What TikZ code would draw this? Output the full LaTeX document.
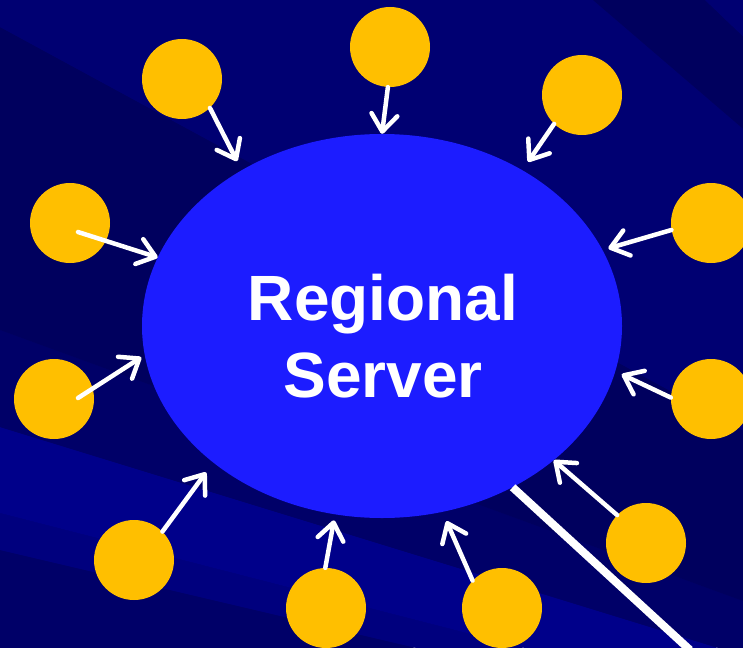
\documentclass[tikz,border=0pt]{standalone}
\usepackage{fontspec}
\setmainfont{Liberation Sans}
\usetikzlibrary{shapes.geometric,arrows.meta,calc}
\definecolor{srvblue}{HTML}{1C1CFF}
\definecolor{dotyellow}{HTML}{FFBF00}
\definecolor{bgDark}{HTML}{00005E}
\definecolor{bgDk}{HTML}{000068}
\definecolor{bgMid}{HTML}{000072}
\definecolor{bgMl}{HTML}{00007E}
\definecolor{bgLight}{HTML}{00008A}
\tikzset{
  dot/.style={circle, fill=dotyellow, minimum size=80pt, inner sep=0pt},
  server/.style={ellipse, fill=srvblue, minimum width=480pt, minimum height=384pt, inner sep=0pt},
  feed/.style={draw=white, line width=4.5pt, line cap=round,
    -{Straight Barb[length=17pt,width=26pt,round]}},
  uplink/.style={draw=white, line width=8pt},
  lbl/.style={text=white, font=\bfseries\fontsize{64}{77}\selectfont, align=center},
  band/.style={fill=#1}
}
\begin{document}
\begin{tikzpicture}[x=1pt,y=-1pt]
\useasboundingbox (0,0) rectangle (743,647);
\begin{scope}
\clip (0,0) rectangle (743,647);
\fill[bgMid] (0,0) rectangle (743,647);
\coordinate (F) at (1700,950);
\fill[band=bgDk]    (F) -- ($(F)!2!(0,700)$) -- ($(F)!2!(0,550)$) -- cycle;
\fill[band=bgMl]    (F) -- ($(F)!2!(0,550)$) -- ($(F)!2!(0,513)$) -- cycle;
\fill[band=bgLight] (F) -- ($(F)!2!(0,513)$) -- ($(F)!2!(0,427)$) -- cycle;
\fill[band=bgDk]    (F) -- ($(F)!2!(0,427)$) -- ($(F)!2!(0,330)$) -- cycle;
\fill[band=bgDark]  (F) -- ($(F)!2!(0,330)$) -- ($(F)!2!(0,27)$) -- cycle;
\fill[band=bgMid]   (F) -- ($(F)!2!(0,27)$) -- ($(F)!2!(593,0)$) -- cycle;
\fill[band=bgDark]  (F) -- ($(F)!2!(593,0)$) -- ($(F)!2!(705,0)$) -- cycle;
\fill[band=bgMid]   (F) -- ($(F)!2!(705,0)$) -- ($(F)!2!(800,0)$) -- cycle;
\end{scope}
% server
\node[server] (srv) at (382,326) {};
\node[lbl] (txt) at (383,336) {Regional\\Server};
% clients
\node[dot] (c1) at (182,79) {};
\node[dot] (c2) at (390,47) {};
\node[dot] (c3) at (582,95) {};
\node[dot] (c4) at (70,223) {};
\node[dot] (c5) at (711,223) {};
\node[dot] (c6) at (54,399) {};
\node[dot] (c7) at (711,399) {};
\node[dot] (c8) at (134,560) {};
\node[dot] (c9) at (646,543) {};
\node[dot] (c10) at (326,608) {};
\node[dot] (c11) at (502,608) {};
% arrows
\draw[feed, shorten >=10pt] (c1.-46) -- (srv.132);
\draw[feed] (c2.-93) -- (srv.90);
\draw[feed, shorten >=10pt] (c3.226) -- (srv.48);
\draw[feed] ([shift={(8,9)}]c4.center) -- (srv.163.5);
\draw[feed, shorten >=6pt] (c5.190) -- (srv.19.8);
\draw[feed, shorten >=4pt] ([shift={(24,-1)}]c6.center) -- (srv.187.8);
\draw[feed, shorten >=7pt] (c7.178) -- (srv.-11.5);
\draw[feed, shorten >=12pt] (c8.45) -- (srv.219.5);
\draw[feed] (c9.136) -- (srv.-38.7);
\draw[feed, shorten >=6pt] (c10.91.5) -- (srv.256);
\draw[feed, shorten >=10pt] (c11.137) -- (srv.288.7);
% uplink
\coordinate (out) at (690,650);
\draw[uplink] (srv.-51.5) -- (out);
\end{tikzpicture}
\end{document}
